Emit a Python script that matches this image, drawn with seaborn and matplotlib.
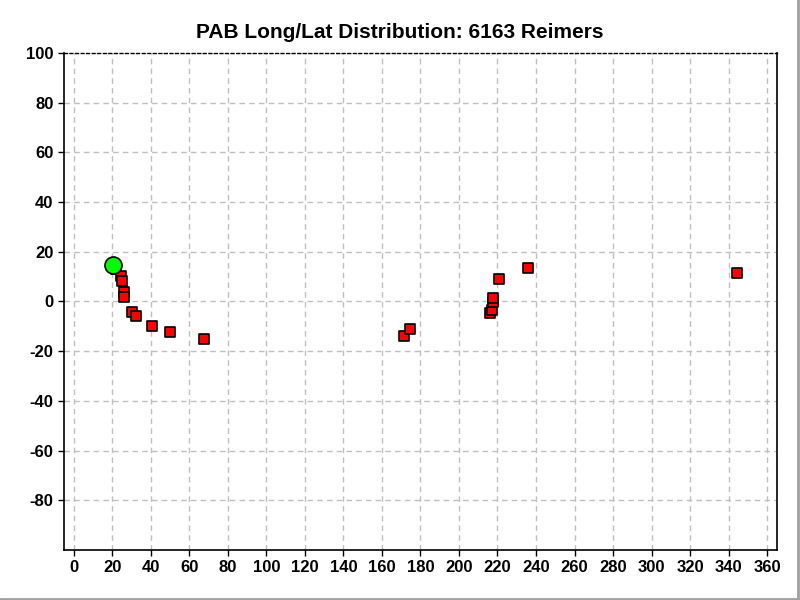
import matplotlib
matplotlib.use("Agg")
import matplotlib.pyplot as plt
import seaborn as sns
import pandas as pd
from matplotlib.lines import Line2D

sns.set_theme(style="white")
plt.rcParams['font.family'] = ['Liberation Sans', 'DejaVu Sans']
plt.rcParams['font.weight'] = 'bold'
plt.rcParams['axes.unicode_minus'] = False

title = "PAB Long/Lat Distribution: 6163 Reimers"

# red squares (longitude, latitude)
lon = [21.8, 24.5, 25.1, 26.1, 26.1, 30.1, 32.3, 40.6, 50.0, 67.6,
       171.3, 174.4, 215.9, 217.0, 217.5, 217.5, 220.6, 236.1, 344.4]
lat = [13.0, 10.3, 8.1, 3.7, 1.7, -4.3, -5.9, -9.9, -12.3, -15.2,
       -13.9, -11.1, -4.7, -3.5, -0.3, 1.3, 8.9, 13.3, 11.4]

# green circle (reference location)
ref_lon = [20.3]
ref_lat = [14.8]

xticks = list(range(0, 361, 20))
yticks = list(range(-80, 101, 20))

df = pd.DataFrame({"lon": lon, "lat": lat})
dref = pd.DataFrame({"lon": ref_lon, "lat": ref_lat})

fig = plt.figure(figsize=(8, 6), dpi=100)
ax = fig.add_axes([0.08, 0.0833, 0.891, 0.8284])

sns.scatterplot(data=df, x="lon", y="lat", ax=ax, marker="s", s=62,
                color="#ff0000", edgecolor="black", linewidth=1.2, zorder=3)
sns.scatterplot(data=dref, x="lon", y="lat", ax=ax, marker="o", s=150,
                color="#00ff00", edgecolor="black", linewidth=1.2, zorder=4)

ax.set_xlim(-5, 365)
ax.set_ylim(-100, 100)
ax.set_xticks(xticks)
ax.set_yticks(yticks)
ax.set_xlabel("")
ax.set_ylabel("")
ax.grid(True, color="#c0c0c0", linestyle=(0, (4, 3)), linewidth=1)
ax.set_axisbelow(True)
for s in ["left", "right", "bottom"]:
    ax.spines[s].set_color("black")
    ax.spines[s].set_linewidth(1.2)
ax.spines["top"].set_color("black")
ax.spines["top"].set_linewidth(1)
ax.spines["top"].set_linestyle((0, (2, 2)))
ax.tick_params(axis="both", which="both", direction="out", length=4, width=1,
               color="black", labelsize=12, labelcolor="black",
               bottom=True, left=True)
for lab in ax.get_xticklabels() + ax.get_yticklabels():
    lab.set_fontweight("bold")

fig.suptitle(title, x=0.5, y=0.962, fontsize=15, fontweight="bold",
             color="black")

fig.add_artist(Line2D([0, 1], [0.002, 0.002], transform=fig.transFigure,
                      color="#a0a0a0", linewidth=2))
fig.add_artist(Line2D([0.998, 0.998], [0, 1], transform=fig.transFigure,
                      color="#a0a0a0", linewidth=2))

fig.savefig("out.png", dpi=100)
